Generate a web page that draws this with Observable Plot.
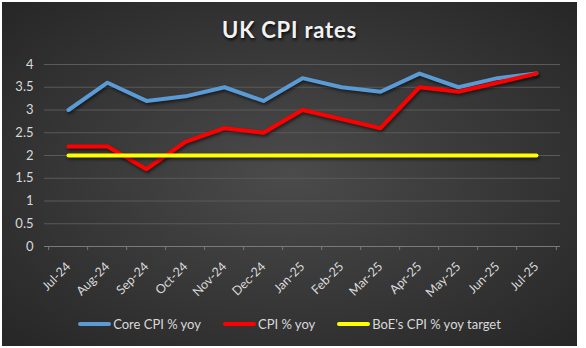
<!DOCTYPE html>
<html>
<head>
<meta charset="utf-8">
<script src="https://cdn.jsdelivr.net/npm/d3@7"></script>
<script src="https://cdn.jsdelivr.net/npm/@observablehq/plot@0.6"></script>
<style>
  html, body { margin: 0; padding: 0; background: #ffffff; }
  #box {
    position: absolute; left: 2px; top: 2px; width: 575px; height: 344px;
    background: radial-gradient(ellipse at 50% 50%, #4b4b4b 0%, #3a3a3a 45%, #262626 100%);
    overflow: hidden; font-family: Lato, "Open Sans", sans-serif;
  }
  #title {
    position: absolute; left: 0; top: 14px; width: 100%; text-align: center;
    font-size: 22px; font-weight: bold; line-height: 28px; color: #f2f2f2;
    letter-spacing: 0.8px; text-shadow: 1px 2px 3px rgba(0,0,0,0.8);
  }
  #chart { position: absolute; left: 0; top: 48px; }
  #legend {
    position: absolute; left: 0; top: 314px; width: 100%;
    display: flex; justify-content: center; align-items: center;
    font-size: 13px; color: #d9d9d9; line-height: 16px;
  }
  .item { display: flex; align-items: center; margin: 0 11px; }
  .sw { width: 33px; height: 4px; border-radius: 2px; margin-right: 2px; }
  #chart g[aria-label="line"] path { filter: drop-shadow(1px 2px 1.5px rgba(0,0,0,0.55)); }
</style>
</head>
<body>
<div id="box">
  <div id="title">UK CPI rates</div>
  <div id="chart"></div>
  <div id="legend"></div>
</div>
<script>
const months = ["Jul-24","Aug-24","Sep-24","Oct-24","Nov-24","Dec-24","Jan-25","Feb-25","Mar-25","Apr-25","May-25","Jun-25","Jul-25"];
const coreCPI = [3.0, 3.6, 3.2, 3.3, 3.5, 3.2, 3.7, 3.5, 3.4, 3.8, 3.5, 3.7, 3.8];
const cpi = [2.2, 2.2, 1.7, 2.3, 2.6, 2.5, 3.0, 2.8, 2.6, 3.5, 3.4, 3.6, 3.8];
const target = [2, 2, 2, 2, 2, 2, 2, 2, 2, 2, 2, 2, 2];
const yTicks = [0, 0.5, 1, 1.5, 2, 2.5, 3, 3.5, 4];
const seriesNames = ["Core CPI % yoy", "CPI % yoy", "BoE's CPI % yoy target"];
const seriesColors = ["#5b9bd5", "#ff0000", "#ffff00"];

const rows = months.map((m, i) => ({month: m, core: coreCPI[i], cpi: cpi[i], target: target[i]}));

const W = 575, mL = 42, mR = 17;
const step = (W - mL - mR) / months.length;

const chart = Plot.plot({
  width: W, height: 262,
  marginLeft: mL, marginRight: mR, marginTop: 14, marginBottom: 66,
  style: {background: "transparent", color: "#d9d9d9", fontFamily: "Lato, 'Open Sans', sans-serif", fontSize: "12.5px", overflow: "visible"},
  x: {type: "point", domain: months, padding: 0.5, label: null},
  y: {domain: [0, 4], label: null},
  marks: [
    Plot.gridY(yTicks, {stroke: "#5a5a5a", strokeOpacity: 1}),
    Plot.ruleY([0], {stroke: "#7a7a7a"}),
    Plot.axisY(yTicks, {tickSize: 0, tickPadding: 11, tickFormat: d => String(d), fontSize: 13, label: null}),
    Plot.axisX({tickSize: 0, tickRotate: -45, tickPadding: 18, fontSize: 12.5, label: null}),
    Plot.axisX({tickSize: 4, tickFormat: () => "", dx: -step / 2, stroke: "#7a7a7a", label: null}),
    Plot.axisX([months[months.length - 1]], {tickSize: 4, tickFormat: () => "", dx: step / 2, stroke: "#7a7a7a", label: null}),
    Plot.line(rows, {x: "month", y: "core", stroke: seriesColors[0], strokeWidth: 4, strokeLinecap: "round", strokeLinejoin: "round"}),
    Plot.line(rows, {x: "month", y: "cpi", stroke: seriesColors[1], strokeWidth: 4, strokeLinecap: "round", strokeLinejoin: "round"}),
    Plot.line(rows, {x: "month", y: "target", stroke: seriesColors[2], strokeWidth: 4, strokeLinecap: "round", strokeLinejoin: "round"})
  ]
});
document.getElementById("chart").appendChild(chart);

const legend = document.getElementById("legend");
seriesNames.forEach((name, i) => {
  const it = document.createElement("div");
  it.className = "item";
  const sw = document.createElement("div");
  sw.className = "sw";
  sw.style.background = seriesColors[i];
  const tx = document.createElement("span");
  tx.textContent = name;
  it.appendChild(sw); it.appendChild(tx);
  legend.appendChild(it);
});
</script>
</body>
</html>
